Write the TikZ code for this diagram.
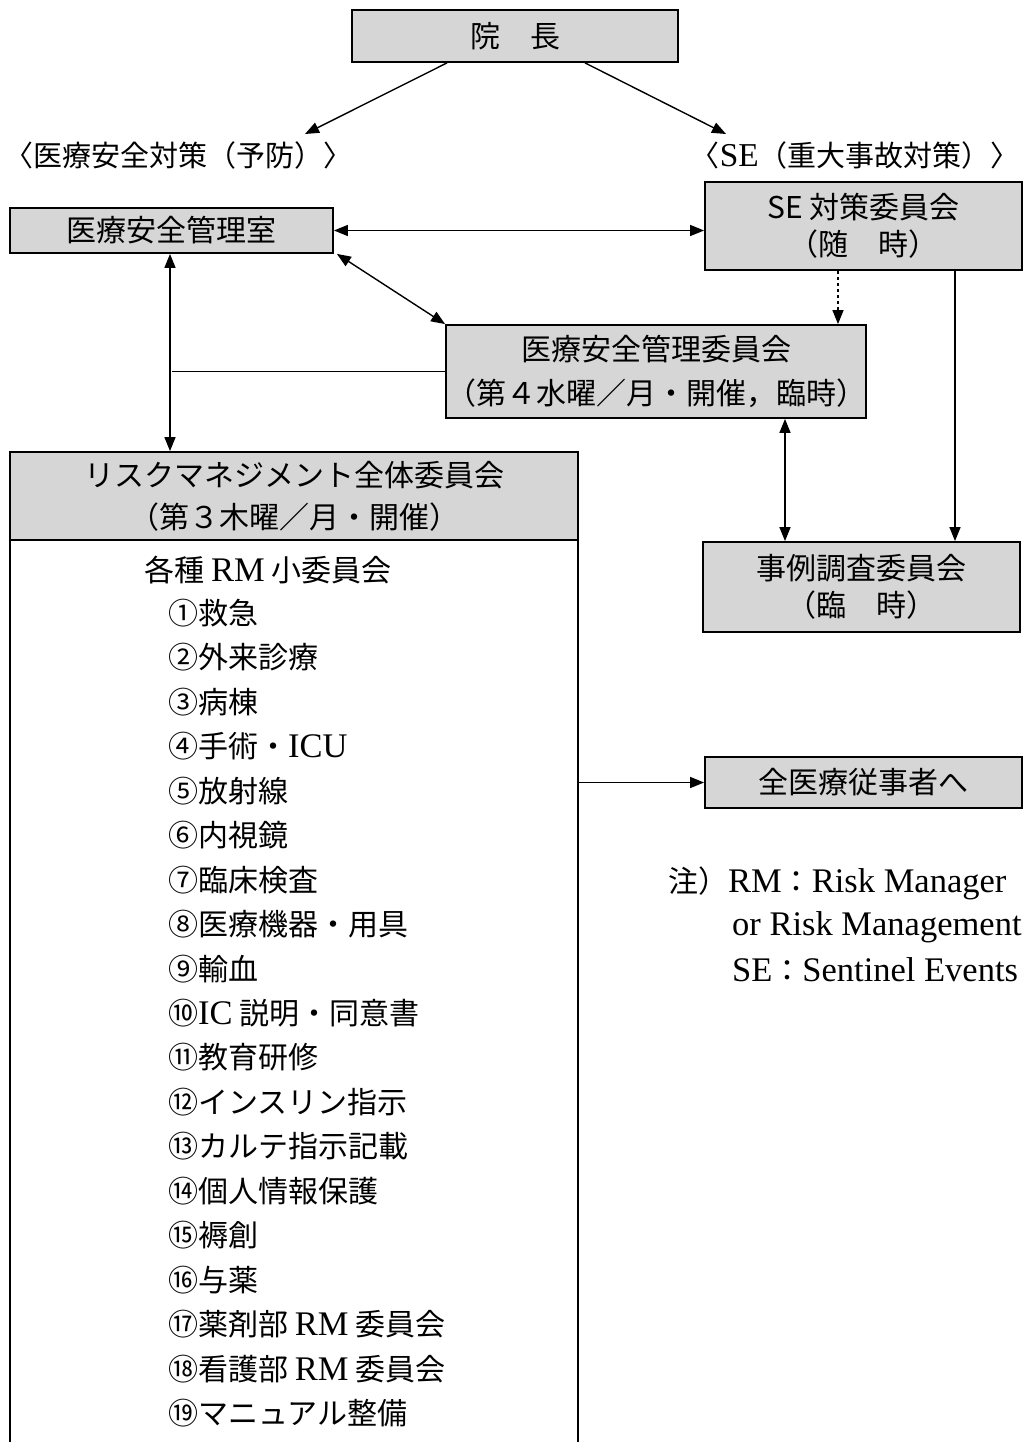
\documentclass[tikz,border=0pt]{standalone}
\usepackage{fontspec}
\setmainfont{Liberation Serif}[Scale=1.15]
\newfontfamily\jp{Noto Sans CJK JP}
\usetikzlibrary{arrows.meta}
\newcommand{\fs}{\fontsize{30}{40}\selectfont}
\newcommand{\lat}[1]{{\rmfamily #1}}
\begin{document}
\begin{tikzpicture}[x=1pt,y=-1pt,
  shbox/.style={draw, line width=1.8pt, fill=gray!32, inner sep=0pt, align=center, font=\jp\fs},
  txt/.style={inner sep=0pt, font=\jp\fs},
  arr/.style={-{Triangle[length=14pt,width=11pt]}, line width=1.4pt},
  darr/.style={{Triangle[length=14pt,width=11pt]}-{Triangle[length=14pt,width=11pt]}, line width=1.4pt},
  ln/.style={line width=1.4pt}]
\useasboundingbox (0,0) rectangle (1024,1442);
\fill[white] (0,0) rectangle (1024,1442);

% boxes
\node[shbox, minimum width=326pt, minimum height=52pt] (inchou) at (515,36) {院　長};
\node[txt, anchor=west, font=\jp\fontsize{29}{36}\selectfont] (lab1) at (4,155) {〈医療安全対策（予防）〉};
\node[txt, anchor=east, font=\jp\fontsize{29}{36}\selectfont] (lab2) at (1020,155) {〈\lat{SE}（重大事故対策）〉};
\node[shbox, minimum width=323pt, minimum height=45pt] (shitsu) at (171.5,230.5) {医療安全管理室};
\node[shbox, minimum width=317pt, minimum height=88pt, font=\jp\fontsize{30}{37}\selectfont] (se) at (863.5,226) {SE 対策委員会\\（随　時）};
\node[shbox, minimum width=412pt, minimum height=93pt, font=\jp\fontsize{30}{44}\selectfont] (iinkai) at (656,371.5) {医療安全管理委員会\\（第４水曜／月・開催，臨時）};
\node[shbox, minimum width=568pt, minimum height=88pt, font=\jp\fontsize{30}{42}\selectfont] (risk) at (294,496) {リスクマネジメント全体委員会\\（第３木曜／月・開催）};
\node[shbox, minimum width=317pt, minimum height=90pt, font=\jp\fontsize{30}{37}\selectfont] (jirei) at (861.5,587) {事例調査委員会\\（臨　時）};
\node[shbox, minimum width=317pt, minimum height=51pt] (zen) at (863.5,782.5) {全医療従事者へ};

% big list box
\node[minimum width=568pt, minimum height=910pt, inner sep=0pt] (big) at (294,995) {};
\draw[line width=1.8pt] (big.south west) -- (big.north west) -- (big.north east) -- (big.south east);

\node[txt] (kakushu) at (268,570) {各種 \lat{RM} 小委員会};
\foreach \t [count=\i from 0] in {①救急,②外来診療,③病棟,④手術・\lat{ICU},⑤放射線,⑥内視鏡,⑦臨床検査,⑧医療機器・用具,⑨輸血,⑩\lat{IC} 説明・同意書,⑪教育研修,⑫インスリン指示,⑬カルテ指示記載,⑭個人情報保護,⑮褥創,⑯与薬,⑰薬剤部 \lat{RM} 委員会,⑱看護部 \lat{RM} 委員会,⑲マニュアル整備}
  \node[txt, anchor=west] (item\i) at (168,613+44.45*\i) {\t};

% notes
\node[txt, anchor=west] (n1) at (668,883) {注）\lat{RM}：\lat{Risk Manager}};
\node[txt, anchor=west] (n2) at (732,927) {\lat{or Risk Management}};
\node[txt, anchor=west] (n3) at (732,970) {\lat{SE}：\lat{Sentinel Events}};

% connectors
\coordinate (a1) at (305,134);
\coordinate (a2) at (726,134);
\draw[arr] ([xshift=-68pt]inchou.south) -- (a1);
\draw[arr] ([xshift=70pt]inchou.south) -- (a2);
\draw[darr] (shitsu.east) -- (shitsu.east -| se.west);
\draw[darr] ([xshift=3pt]shitsu.south east) -- (iinkai.north west);
\draw[arr, dashed] ([xshift=-25.5pt]se.south) -- ([xshift=-25.5pt]se.south |- iinkai.north);
\draw[arr] ([xshift=91.5pt]se.south) -- ([xshift=91.5pt]se.south |- jirei.north);
\draw[darr] ([xshift=129pt]iinkai.south) -- ([xshift=129pt]iinkai.south |- jirei.north);
\draw[darr] ([xshift=-1.5pt]shitsu.south) -- ([xshift=-1.5pt]shitsu.south |- risk.north);
\draw[ln] (iinkai.west) -- (iinkai.west -| shitsu.south);
\draw[arr] (zen.west -| big.east) -- (zen.west);
\end{tikzpicture}
\end{document}
